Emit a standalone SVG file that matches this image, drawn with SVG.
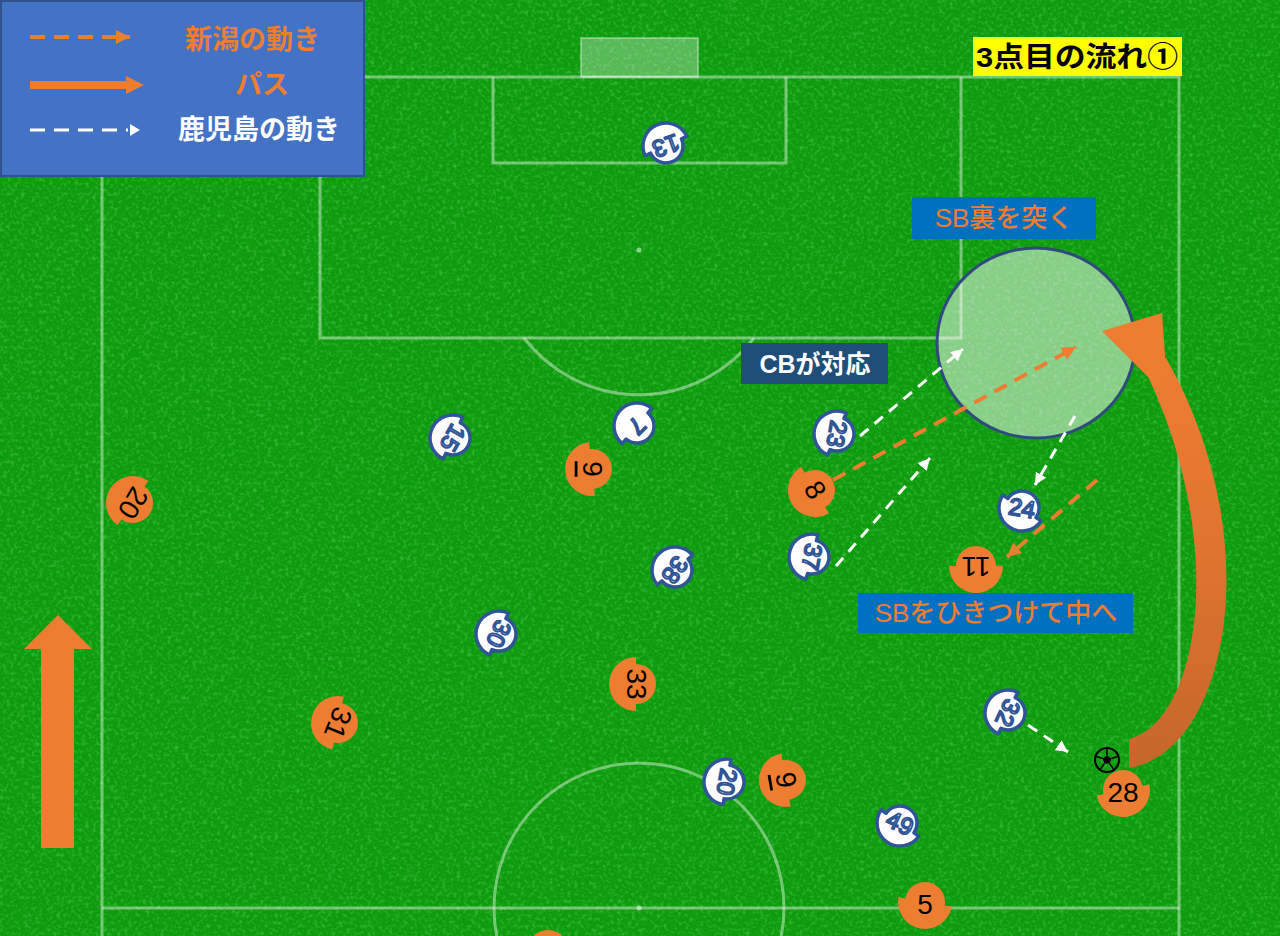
<svg xmlns="http://www.w3.org/2000/svg" width="1280" height="936" viewBox="0 0 1280 936">
<defs>
<style>
.ln{fill:none;stroke:#fff;stroke-opacity:.42;stroke-width:3}
.to{fill:#ED7D31}
.tw{fill:#fff;stroke:#2F5597;stroke-width:3.5;stroke-linejoin:round}
.no{font-family:"Liberation Sans",Arial,sans-serif;font-size:28px;fill:#000;text-anchor:middle;dominant-baseline:central}
.nw{font-family:"Liberation Sans",Arial,sans-serif;font-size:24px;fill:#fff;stroke:#2F5597;stroke-width:1.8;text-anchor:middle;dominant-baseline:central}
.jp{font-family:"Liberation Sans","Noto Sans CJK JP",sans-serif}
.od{fill:none;stroke:#ED7D31;stroke-width:4;stroke-dasharray:14 9;marker-end:url(#ao)}
.wd{fill:none;stroke:#fff;stroke-width:3;stroke-dasharray:11 8;marker-end:url(#aw)}
</style>
<marker id="ao" markerUnits="userSpaceOnUse" markerWidth="16" markerHeight="14" refX="14" refY="7" orient="auto"><path d="M0 0L14 7L0 14Z" fill="#ED7D31"/></marker>
<marker id="aw" markerUnits="userSpaceOnUse" markerWidth="14" markerHeight="12" refX="12" refY="6" orient="auto"><path d="M0 0L12 6L0 12Z" fill="#fff"/></marker>
<linearGradient id="passG" gradientUnits="userSpaceOnUse" x1="0" y1="330" x2="0" y2="770">
<stop offset="0" stop-color="#EE7E32"/><stop offset="0.45" stop-color="#E27530"/><stop offset="1" stop-color="#C4662A"/>
</linearGradient>
<filter id="grain" filterUnits="userSpaceOnUse" x="0" y="0" width="1280" height="936">
<feTurbulence type="fractalNoise" baseFrequency="0.28" numOctaves="2" seed="7"/>
<feColorMatrix type="matrix" values="0 0 0 0 0.25 0 0 0 0 0.78 0 0 0 0 0.25 1.6 0 0 0 -0.75"/>
</filter>
<path id="tokO" d="M-27 0A27 27 0 0 0 27 0H20A20 20 0 0 0-20 0Z"/>
<path id="tokW" d="M-23 0A23 23 0 0 0 23 0H17A17 17 0 0 0-17 0Z"/>
</defs>

<g id="pitch">
<rect x="0" y="0" width="1280" height="936" fill="#0E9C0E"/>
<rect x="0" y="0" width="1280" height="936" filter="url(#grain)" opacity="0.55"/>
<rect x="581" y="38" width="117" height="39" fill="#fff" fill-opacity="0.3" stroke="#fff" stroke-opacity="0.35" stroke-width="2"/>
<path class="ln" d="M102 936V77H1179V936"/>
<path class="ln" d="M320 77V338H961V77"/>
<path class="ln" d="M493 77V163H786V77"/>
<path class="ln" d="M524 338A145 145 0 0 0 754 338"/>
<path class="ln" d="M102 908H1179"/>
<circle class="ln" cx="639" cy="908" r="145"/>
<circle cx="639" cy="250" r="2.5" fill="#fff" fill-opacity="0.5"/>
<circle cx="639" cy="908" r="2.5" fill="#fff" fill-opacity="0.5"/>
</g>

<g id="legend">
<rect x="1" y="1" width="363" height="175" fill="#4472C4" stroke="#2F528F" stroke-width="2"/>
<path d="M30 37H130" fill="none" stroke="#ED7D31" stroke-width="4" stroke-dasharray="15 9" marker-end="url(#ao)"/>
<path d="M30 85H128" fill="none" stroke="#ED7D31" stroke-width="8"/>
<path d="M126 76L144 85L126 94Z" fill="#ED7D31"/>
<path d="M30 130H128" fill="none" stroke="#fff" stroke-width="3" stroke-dasharray="15 9"/>
<path d="M130 124L140 130L130 136Z" fill="#fff"/>
<text class="jp" x="185" y="40" font-size="27" font-weight="bold" fill="#ED7D31" dominant-baseline="central">新潟の動き</text>
<text class="jp" x="262" y="85" font-size="27" font-weight="bold" fill="#ED7D31" text-anchor="middle" dominant-baseline="central">パス</text>
<text class="jp" x="178" y="130" font-size="27" font-weight="bold" fill="#fff" dominant-baseline="central">鹿児島の動き</text>
</g>

<g id="title">
<rect x="973" y="37" width="209" height="39" fill="#FFFF00"/>
<text class="jp" x="1077" y="57" font-size="28" font-weight="bold" fill="#000" text-anchor="middle" dominant-baseline="central" textLength="202" lengthAdjust="spacingAndGlyphs">3点目の流れ①</text>
</g>

<g id="zone">
<ellipse cx="1036" cy="343" rx="99" ry="95" fill="#fff" fill-opacity="0.5" stroke="#2F4B7C" stroke-width="3"/>
</g>

<g id="connectors">
<path class="od" d="M833 480L1076 347"/>
<path class="od" d="M1097 480L1007 557"/>
<path class="wd" d="M860 436L963 349"/>
<path class="wd" d="M836 566L930 458"/>
<path class="wd" d="M1075 416L1035 485"/>
<path class="wd" d="M1028 725L1068 752"/>
<path id="pass" d="M1129 739C1198 722 1230 548 1146 372L1166 358C1270 540 1228 752 1129 768Z" fill="url(#passG)"/>
<path d="M1102 331L1162 313L1168 397Z" fill="#ED7D31"/>
<path id="advance" d="M58 615L92 649H74V848H41V649H24Z" fill="#ED7D31"/>
</g>

<g id="label-sb-ura">
<rect x="912" y="197" width="184" height="42" fill="#0070C0"/>
<text class="jp" x="1004" y="218" font-size="26" font-weight="500" fill="#ED7D31" text-anchor="middle" dominant-baseline="central">SB裏を突く</text>
</g>
<g id="label-cb">
<rect x="741" y="343" width="147" height="41" fill="#1F4E79"/>
<text class="jp" x="815" y="364" font-size="25" font-weight="bold" fill="#fff" text-anchor="middle" dominant-baseline="central">CBが対応</text>
</g>
<g id="label-sb-naka">
<rect x="858" y="593" width="275" height="40" fill="#0070C0"/>
<text class="jp" x="996" y="613" font-size="26" font-weight="500" fill="#ED7D31" text-anchor="middle" dominant-baseline="central">SBをひきつけて中へ</text>
</g>

<g id="ball" transform="translate(1107,760)">
<circle r="12" fill="none" stroke="#000" stroke-width="2.2"/>
<polygon points="0,-4.5 4.3,-1.4 2.6,3.6 -2.6,3.6 -4.3,-1.4" fill="#000"/>
<path d="M0-4.5V-11M4.3-1.4L10.5-3.4M2.6 3.6L6.5 8.9M-2.6 3.6L-6.5 8.9M-4.3-1.4L-10.5-3.4" stroke="#000" stroke-width="1.6"/>
</g>

<g id="n20" transform="translate(133,503)"><use href="#tokO" class="to" transform="rotate(125)"/><text class="no" transform="rotate(121)">20</text></g>
<g id="n9a" transform="translate(592,469)"><use href="#tokO" class="to" transform="rotate(84)"/><text class="no" transform="rotate(90)" text-decoration="underline">9</text></g>
<g id="n8" transform="translate(815,490)"><use href="#tokO" class="to" transform="rotate(59)"/><text class="no" transform="rotate(60)">8</text></g>
<g id="n11" transform="translate(976,566)"><use href="#tokO" class="to"/><text class="no" transform="rotate(180)">11</text></g>
<g id="n33" transform="translate(636,684)"><use href="#tokO" class="to" transform="rotate(90)"/><text class="no" transform="rotate(90)">33</text></g>
<g id="n31" transform="translate(338,723)"><use href="#tokO" class="to" transform="rotate(102)"/><text class="no" transform="rotate(112)">31</text></g>
<g id="n9b" transform="translate(786,780)"><use href="#tokO" class="to" transform="rotate(80)"/><text class="no" transform="rotate(80)" text-decoration="underline">9</text></g>
<g id="n28" transform="translate(1123,790)"><use href="#tokO" class="to" transform="rotate(-12)"/><text class="no" y="2">28</text></g>
<g id="n5" transform="translate(925,902)"><use href="#tokO" class="to" transform="rotate(10)"/><text class="no" y="2">5</text></g>
<g id="nbottom" transform="translate(548,950)"><use href="#tokO" class="to"/></g>

<g id="k13" transform="translate(666,146)"><use href="#tokW" class="tw" transform="rotate(155)"/><text class="nw" transform="rotate(160)">13</text></g>
<g id="k15" transform="translate(453,438)"><use href="#tokW" class="tw" transform="rotate(115)"/><text class="nw" transform="rotate(120)">15</text></g>
<g id="k7" transform="translate(637,426)"><use href="#tokW" class="tw" transform="rotate(130)"/><text class="nw" transform="rotate(135)">7</text></g>
<g id="k23" transform="translate(837,434)"><use href="#tokW" class="tw" transform="rotate(114)"/><text class="nw" transform="rotate(100)">23</text></g>
<g id="k24" transform="translate(1022,508)"><use href="#tokW" class="tw" transform="rotate(34)"/><text class="nw" transform="rotate(10)">24</text></g>
<g id="k37" transform="translate(812,557)"><use href="#tokW" class="tw" transform="rotate(105)"/><text class="nw" transform="rotate(100)">37</text></g>
<g id="k38" transform="translate(675,570)"><use href="#tokW" class="tw" transform="rotate(140)"/><text class="nw" transform="rotate(125)">38</text></g>
<g id="k30" transform="translate(499,634)"><use href="#tokW" class="tw" transform="rotate(114)"/><text class="nw" transform="rotate(115)">30</text></g>
<g id="k32" transform="translate(1008,713)"><use href="#tokW" class="tw" transform="rotate(115)"/><text class="nw" transform="rotate(115)">32</text></g>
<g id="k20" transform="translate(727,782)"><use href="#tokW" class="tw" transform="rotate(100)"/><text class="nw" transform="rotate(100)">20</text></g>
<g id="k49" transform="translate(900,823)"><use href="#tokW" class="tw" transform="rotate(35)"/><text class="nw" transform="rotate(25)">49</text></g>
</svg>
